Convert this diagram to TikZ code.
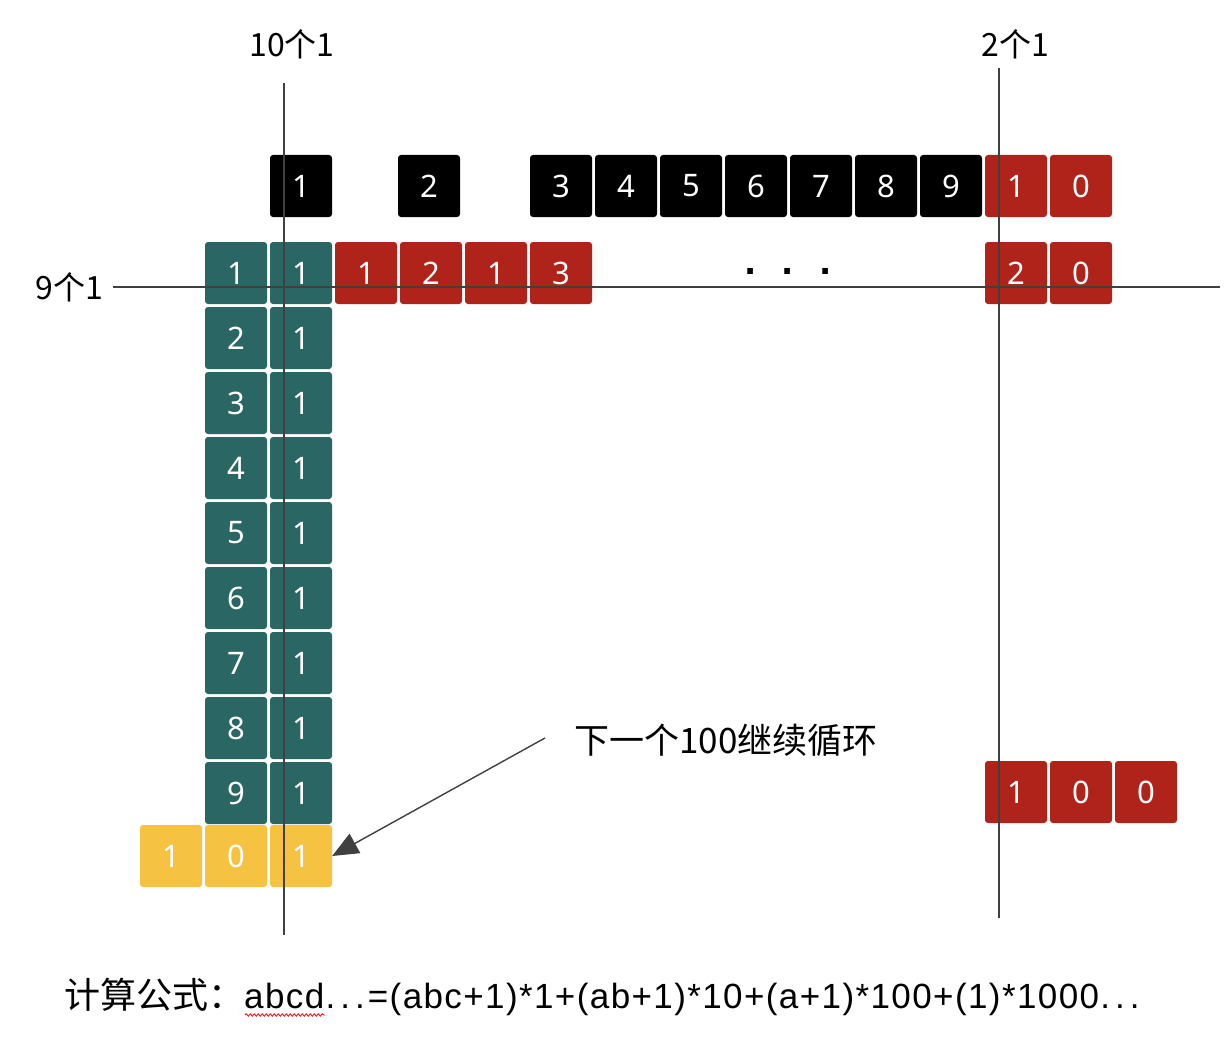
\documentclass[tikz,border=0pt]{standalone}
\usepackage{fontspec}
\setmainfont{Liberation Sans}
\newfontfamily\cjk{Noto Sans CJK SC}
\newfontfamily\digitfont{Noto Sans}
\newfontfamily\dotfont{DejaVu Sans}
\newfontfamily\formfont[LetterSpace=4]{Liberation Sans}
\usetikzlibrary{arrows.meta,decorations.pathmorphing}
\definecolor{tealc}{HTML}{2A6663}
\definecolor{redc}{HTML}{B0231B}
\definecolor{yelc}{HTML}{F5C242}
\definecolor{axisc}{HTML}{404040}
\tikzset{
  cell/.style={minimum width=62pt,minimum height=62pt,inner sep=0pt,rounded corners=3pt,
    text=white,font=\digitfont\fontsize{31}{31}\selectfont},
  bk/.style={cell,fill=black},
  rd/.style={cell,fill=redc},
  tl/.style={cell,fill=tealc},
  yl/.style={cell,fill=yelc},
  axis/.style={draw=axisc,line width=1.6pt},
  lbl/.style={font=\cjk\fontsize{32}{32}\selectfont,inner sep=0pt},
}
\begin{document}
\begin{tikzpicture}[x=1pt,y=-1pt]
\useasboundingbox (0,0) rectangle (1232,1038);
% top black row
\node[bk] (b1) at (301,186) {1};
\node[bk] (b2) at (429,186) {2};
\foreach \d [count=\i from 0] in {3,4,5,6,7,8,9}
  \node[bk] (b\d) at (561+65*\i,186) {\d};
\node[rd] (b10a) at (1016,186) {1};
\node[rd] (b10b) at (1081,186) {0};
% second row
\node[rd] (r1) at (366,273) {1};
\node[rd] (r2) at (431,273) {2};
\node[rd] (r3) at (496,273) {1};
\node[rd] (r4) at (561,273) {3};
\node[font=\dotfont\bfseries\fontsize{32}{32}\selectfont,inner sep=0pt] (dots) at (788,271) {.\hspace{25pt}.\hspace{25pt}.};
\node[rd] (r20a) at (1016,273) {2};
\node[rd] (r20b) at (1081,273) {0};
% teal column
\foreach \d [count=\i from 0] in {1,...,9}{
  \node[tl] (ta\d) at (236,273+65*\i) {\d};
  \node[tl] (tb\d) at (301,273+65*\i) {1};
}
% yellow row
\node[yl] (y1) at (171,856) {1};
\node[yl] (y2) at (236,856) {0};
\node[yl] (y3) at (301,856) {1};
% 100
\node[rd] (h1) at (1016,792) {1};
\node[rd] (h2) at (1081,792) {0};
\node[rd] (h3) at (1146,792) {0};
% axes
\coordinate (v1t) at (284,83);
\coordinate (v1b) at (284,935);
\coordinate (v2t) at (999,68);
\coordinate (v2b) at (999,918);
\coordinate (hl) at (113,287);
\coordinate (hr) at (1220,287);
\draw[axis] (v1t) -- (v1b);
\draw[axis] (v2t) -- (v2b);
\draw[axis] (hl) -- (hr);
% labels
\node[lbl] (l10) at (292,44) {10个1};
\node[lbl] (l2) at (1015,44) {2个1};
\node[lbl,anchor=east] (l9) at (103,287) {9个1};
\node[lbl,font=\cjk\fontsize{35}{35}\selectfont,anchor=west] (next) at (574,740) {下一个100继续循环};
\coordinate (arrs) at (545,738);
\draw[axis,line width=1.4pt,-{Triangle[length=26pt,width=22pt]}] (arrs) -- (y3.east);
% formula
\node[anchor=west,inner sep=0pt] (formula) at (64,997)
  {{\cjk\fontsize{36}{36}\selectfont 计算公式：}\formfont\fontsize{35}{35}\selectfont abcd.\hspace{5pt}.\hspace{5pt}.\hspace{3pt}=(abc+1)*1+(ab+1)*10+(a+1)*100+(1)*1000.\hspace{5pt}.\hspace{5pt}.};
\coordinate (sq1) at (245,1015);
\coordinate (sq2) at (325,1015);
\draw[red,line width=0.8pt,decorate,decoration={snake,amplitude=1.2pt,segment length=4pt}] (sq1) -- (sq2);
\end{tikzpicture}
\end{document}
